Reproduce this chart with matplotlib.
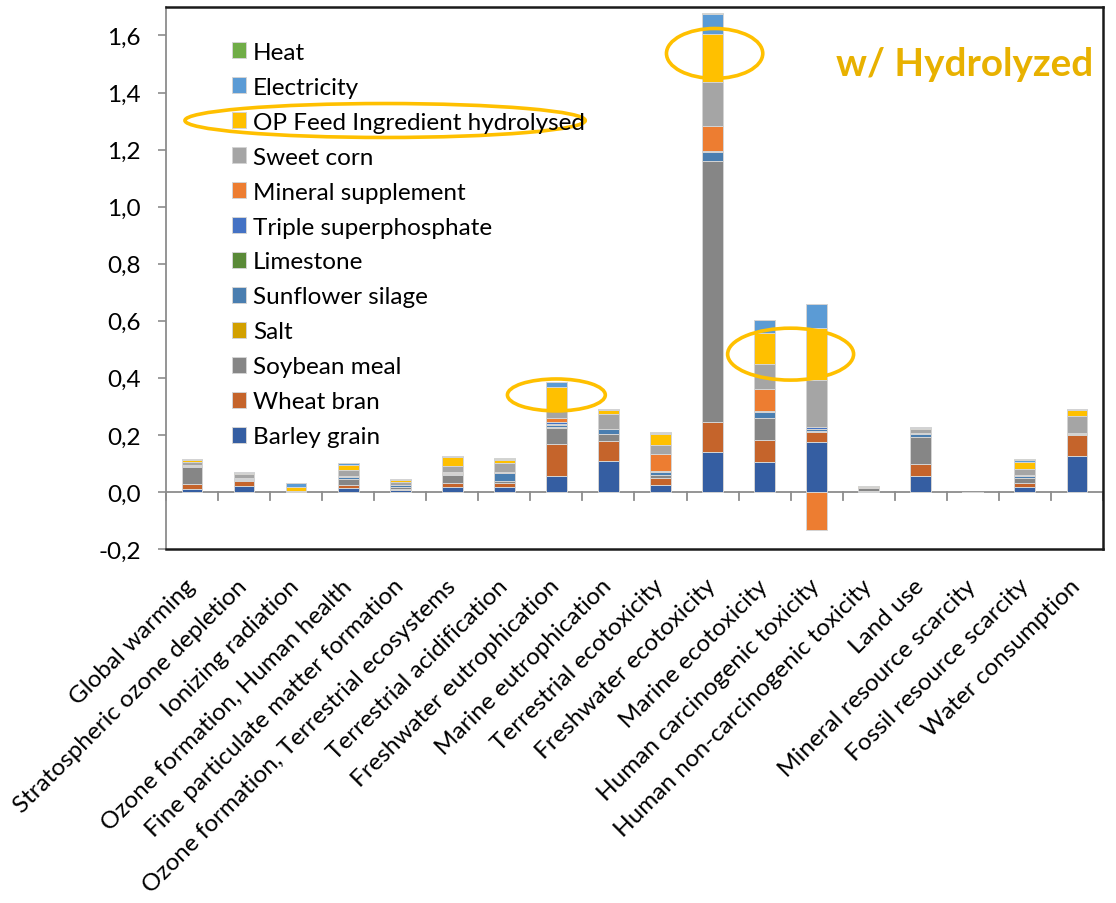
import matplotlib.pyplot as plt
from matplotlib.patches import Ellipse
import numpy as np

plt.rcParams['font.family'] = ['Lato', 'DejaVu Sans']

# impact categories (x axis)
categories = ['Global warming', 'Stratospheric ozone depletion', 'Ionizing radiation',
              'Ozone formation, Human health', 'Fine particulate matter formation',
              'Ozone formation, Terrestrial ecosystems', 'Terrestrial acidification',
              'Freshwater eutrophication', 'Marine eutrophication', 'Terrestrial ecotoxicity',
              'Freshwater ecotoxicity', 'Marine ecotoxicity', 'Human carcinogenic toxicity',
              'Human non-carcinogenic toxicity', 'Land use', 'Mineral resource scarcity',
              'Fossil resource scarcity', 'Water consumption']

# contributions per input, stacked bottom -> top
barley_grain = [0.012, 0.022, 0.001, 0.014, 0.006, 0.019, 0.019, 0.055, 0.110, 0.026,
                0.141, 0.105, 0.176, 0.002, 0.057, 0.0, 0.019, 0.127]
wheat_bran = [0.015, 0.016, 0.0, 0.012, 0.006, 0.014, 0.011, 0.114, 0.067, 0.023,
              0.105, 0.077, 0.033, 0.002, 0.042, 0.0, 0.014, 0.074]
soybean_meal = [0.060, 0.004, 0.001, 0.020, 0.006, 0.025, 0.009, 0.056, 0.026, 0.011,
                0.913, 0.076, 0.004, 0.010, 0.092, 0.0, 0.015, 0.003]
salt = [0.001, 0.001, 0.0, 0.001, 0.001, 0.001, 0.001, 0.001, 0.001, 0.001,
        0.002, 0.001, 0.001, 0.0, 0.001, 0.0, 0.001, 0.001]
sunflower_silage = [0.002, 0.003, 0.0, 0.005, 0.004, 0.005, 0.025, 0.010, 0.015, 0.008,
                    0.030, 0.020, 0.006, 0.001, 0.012, 0.0, 0.007, 0.002]
limestone = [0.001, 0.0, 0.0, 0.001, 0.0, 0.001, 0.001, 0.001, 0.0, 0.001,
             0.0, 0.0, 0.0, 0.0, 0.0, 0.0, 0.0, 0.0]
triple_superphosphate = [0.001, 0.002, 0.0, 0.002, 0.001, 0.002, 0.002, 0.009, 0.001, 0.003,
                         0.004, 0.006, 0.008, 0.0, 0.001, 0.0, 0.001, 0.0]
mineral_supplement = [0.001, 0.001, 0.0, 0.002, 0.0, 0.002, 0.003, 0.012, 0.002, 0.060,
                      0.087, 0.077, -0.133, 0.002, 0.001, 0.0, 0.002, 0.001]
sweet_corn = [0.012, 0.014, 0.0, 0.020, 0.012, 0.023, 0.030, 0.026, 0.050, 0.030,
              0.154, 0.086, 0.163, 0.0, 0.014, 0.0, 0.020, 0.057]
op_feed = [0.007, 0.004, 0.014, 0.018, 0.005, 0.029, 0.011, 0.083, 0.015, 0.040,
           0.170, 0.109, 0.182, 0.004, 0.005, 0.0, 0.027, 0.023]
electricity = [0.004, 0.003, 0.016, 0.005, 0.003, 0.004, 0.005, 0.018, 0.002, 0.004,
               0.070, 0.046, 0.085, 0.001, 0.002, 0.0, 0.006, 0.002]
heat = [0.001, 0.001, 0.0, 0.001, 0.001, 0.001, 0.001, 0.002, 0.001, 0.002,
        0.002, 0.001, 0.002, 0.0, 0.001, 0.0, 0.005, 0.001]

series = [('Barley grain', barley_grain, '#355EA2'),
          ('Wheat bran', wheat_bran, '#C5642B'),
          ('Soybean meal', soybean_meal, '#868686'),
          ('Salt', salt, '#D2A000'),
          ('Sunflower silage', sunflower_silage, '#4A7EB0'),
          ('Limestone', limestone, '#5A8A38'),
          ('Triple superphosphate', triple_superphosphate, '#4472C4'),
          ('Mineral supplement', mineral_supplement, '#ED7D31'),
          ('Sweet corn', sweet_corn, '#A5A5A5'),
          ('OP Feed Ingredient hydrolysed', op_feed, '#FFC000'),
          ('Electricity', electricity, '#5B9BD5'),
          ('Heat', heat, '#70AD47')]

yticks = [-0.2, 0.0, 0.2, 0.4, 0.6, 0.8, 1.0, 1.2, 1.4, 1.6]
ytick_labels = ['-0,2', '0,0', '0,2', '0,4', '0,6', '0,8', '1,0', '1,2', '1,4', '1,6']

x = np.arange(len(categories))
n = len(categories)
fs = 17.5

fig = plt.figure(figsize=(11.16, 9.04), dpi=100)
ax = fig.add_axes([0.1487, 0.3916, 0.8396, 0.5996])

pos_bottom = np.zeros(n)
neg_bottom = np.zeros(n)
for name, vals, col in series:
    v = np.array(vals)
    bottom = np.where(v >= 0, pos_bottom, neg_bottom)
    ax.bar(x, v, 0.40, bottom=bottom, color=col, label=name,
           edgecolor='#d4d4d4', linewidth=0.7, zorder=3)
    pos_bottom += np.where(v >= 0, v, 0)
    neg_bottom += np.where(v < 0, v, 0)

ax.set_xlim(-0.5, n - 0.5)
ax.set_ylim(-0.2, 1.7)

# zero line with category separators
ax.axhline(0, color='#8c8c8c', linewidth=1.3, zorder=2)
for b in np.arange(n + 1) - 0.5:
    ax.plot([b, b], [0, -0.028], color='#8c8c8c', linewidth=1.3, zorder=2,
            clip_on=False)

ax.set_yticks(yticks)
ax.set_yticklabels(ytick_labels, fontsize=fs)
ax.tick_params(axis='y', length=6, width=1.2, color='#8c8c8c', pad=12)

ax.set_xticks(x)
ax.set_xticklabels(categories, rotation=45, ha='right', va='center',
                   rotation_mode='anchor', fontsize=fs)
ax.tick_params(axis='x', length=0, pad=24)

for side in ['top', 'right', 'bottom']:
    ax.spines[side].set_color('#1a1a1a')
    ax.spines[side].set_linewidth(1.8)
ax.spines['left'].set_color('#8c8c8c')
ax.spines['left'].set_linewidth(1.3)

handles, labels = ax.get_legend_handles_labels()
ax.legend(handles[::-1], labels[::-1], loc='upper left', frameon=False,
          bbox_to_anchor=(0.071, 0.936), borderaxespad=0, borderpad=0,
          fontsize=fs, handlelength=0.55, handleheight=0.6,
          handletextpad=0.3, labelspacing=0.575)

fig.text(1093 / 1116, 1 - 65 / 904, 'w/ Hydrolyzed', ha='right', va='center',
         fontsize=27.8, fontweight='bold', color='#E8B100')

# highlight rings
rings = [(3.71, 1.302, 7.69, 0.119),
         (7.0, 0.340, 1.88, 0.112),
         (10.04, 1.537, 1.85, 0.175),
         (11.5, 0.483, 2.42, 0.182)]
for cx, cy, w, h in rings:
    ax.add_patch(Ellipse((cx, cy), w, h, fill=False, edgecolor='#FFC000',
                         linewidth=2.6, zorder=5, clip_on=False))

plt.savefig('out.png', dpi=100)
